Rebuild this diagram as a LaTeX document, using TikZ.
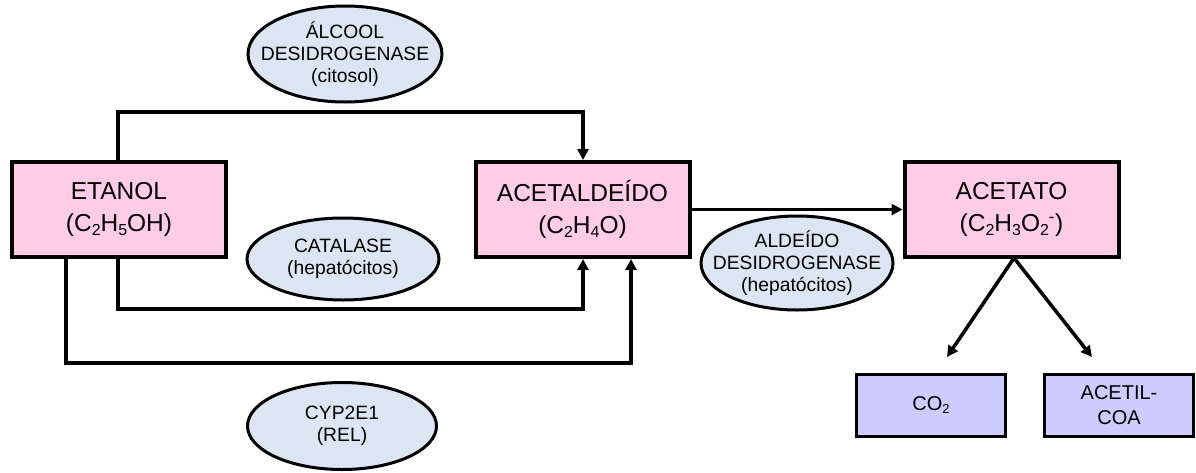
\documentclass[tikz,border=0pt]{standalone}
\usepackage{fontspec}
\setmainfont{Liberation Sans}
\usetikzlibrary{shapes.geometric, arrows.meta}
\definecolor{pinkfill}{HTML}{FFCCE6}
\definecolor{ellfill}{HTML}{DCE6F2}
\definecolor{bluefill}{HTML}{CCCCFF}
\newcommand{\sbs}[1]{\raisebox{-0.3ex}{\scalebox{0.65}{#1}}}
\begin{document}
\begin{tikzpicture}[x=1pt,y=-1pt,
  pbox/.style={draw, line width=4pt, fill=pinkfill, minimum width=214pt, minimum height=95pt,
    align=center, font=\fontsize{24.5}{32}\selectfont, inner sep=0pt},
  bbox/.style={draw, line width=3pt, fill=bluefill, minimum width=149pt, minimum height=62pt,
    align=center, font=\fontsize{20}{25}\selectfont, inner sep=0pt},
  enz/.style={draw, ellipse, line width=3pt, fill=ellfill, inner sep=0pt},
  enztext/.style={align=center, font=\fontsize{19.3}{21.7}\selectfont, inner sep=0pt},
  conn/.style={line width=3.5pt, -{Triangle[length=11pt,width=11pt]}}]
\useasboundingbox (0,0) rectangle (1196,472);

\node[pbox] (eta) at (119,209.5) {ETANOL\\(C\sbs{2}H\sbs{5}OH)};
\node[pbox] (ald) at (582.5,209.5) {ACETALDEÍDO\\(C\sbs{2}H\sbs{4}O)};
\node[pbox] (ace) at (1011.5,209.5) {ACETATO\\(C\sbs{2}H\sbs{3}O\sbs{2}\textsuperscript{-})};
\node[bbox] (co2) at (931,405) {CO\sbs{2}};
\node[bbox] (coa) at (1119,405) {ACETIL-\\COA};

\node[enz, minimum width=194pt, minimum height=96pt] (adh) at (345,54) {};
\node[enztext] (adht) at (adh.center) {ÁLCOOL\\DESIDROGENASE\\(citosol)};
\node[enz, minimum width=192pt, minimum height=82pt] (cat) at (343,259) {};
\node[enztext] (catt) at (cat.center) {CATALASE\\(hepatócitos)};
\node[enz, minimum width=192pt, minimum height=94pt] (aldh) at (797,263) {};
\node[enztext] (aldht) at (aldh.center) {ALDEÍDO\\DESIDROGENASE\\(hepatócitos)};
\node[enz, minimum width=189pt, minimum height=87pt] (cyp) at (342,426) {};
\node[enztext] (cypt) at (cyp.center) {CYP2E1\\(REL)};

\coordinate (t1) at (118,112);
\coordinate (t2) at (583,112);
\coordinate (m1) at (118,309);
\coordinate (m2) at (583,309);
\coordinate (b1) at (66,363);
\coordinate (b2) at (631,363);
\coordinate (split) at (1014,258);
\coordinate (tipl) at (947,357);
\coordinate (tipr) at (1092,357);

\draw[conn] (eta.north -| t1) |- (t2) -- (t2 |- ald.north);
\draw[conn] (eta.south -| m1) |- (m2) -- (m2 |- ald.south);
\draw[conn] (eta.south -| b1) |- (b2) -- (b2 |- ald.south);
\draw[conn] (ald.east) -- (ace.west);
\draw[conn] (split) -- (tipl);
\draw[conn] (split) -- (tipr);
\end{tikzpicture}
\end{document}
